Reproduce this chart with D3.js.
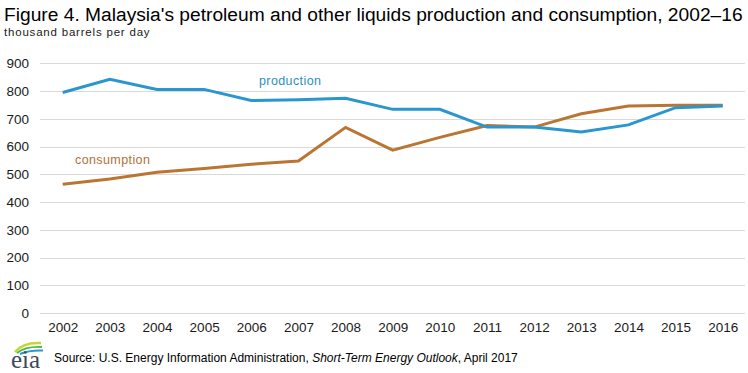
<!DOCTYPE html>
<html>
<head>
<meta charset="utf-8">
<script src="https://cdn.jsdelivr.net/npm/d3@7"></script>
<style>
  body { margin: 0; background: #fff; }
  svg { display: block; font-family: "Liberation Sans", Arial, sans-serif; }
</style>
</head>
<body>
<div id="chart"></div>
<script>
// values (thousand barrels per day)
var years = [2002, 2003, 2004, 2005, 2006, 2007, 2008, 2009, 2010, 2011, 2012, 2013, 2014, 2015, 2016];
var production = [795, 842, 806, 806, 766, 769, 774, 734, 734, 670, 670, 652, 678, 740, 746];
var consumption = [464, 483, 507, 521, 536, 548, 669, 587, 633, 676, 670, 718, 746, 749, 749];
var yTicks = [0, 100, 200, 300, 400, 500, 600, 700, 800, 900];

var w = 748, h = 373;
var svg = d3.select("#chart").append("svg")
    .attr("width", w)
    .attr("height", h);

var x = d3.scalePoint()
    .domain(years)
    .range([62.7, 722.7]);

var y = d3.scaleLinear()
    .domain([0, 900])
    .range([313, 63.3]);

// gridlines
svg.append("g")
    .selectAll("line")
    .data(yTicks)
    .enter()
    .append("line")
    .attr("x1", 40)
    .attr("x2", 745)
    .attr("y1", (d) => Math.round(y(d)) + 0.5)
    .attr("y2", (d) => Math.round(y(d)) + 0.5)
    .attr("stroke", "#d9d9d9")
    .attr("stroke-width", 1);

// y axis labels
var yAxis = svg.append("g")
    .attr("transform", "translate(29,0)")
    .call(d3.axisLeft(y).tickValues(yTicks).tickSize(0).tickPadding(0));
yAxis.select(".domain").remove();
yAxis.selectAll("text")
    .attr("font-size", 13.5)
    .attr("font-family", "Liberation Sans, Arial, sans-serif")
    .attr("fill", "#1a1a1a");

// x axis labels
var xAxis = svg.append("g")
    .attr("transform", "translate(0,322)")
    .call(d3.axisBottom(x).tickFormat(d3.format("d")).tickSize(0).tickPadding(0));
xAxis.select(".domain").remove();
xAxis.selectAll("text")
    .attr("font-size", 13.5)
    .attr("font-family", "Liberation Sans, Arial, sans-serif")
    .attr("fill", "#1a1a1a");

var line = d3.line()
    .x((d, i) => x(years[i]))
    .y((d) => y(d));

svg.append("path")
    .datum(consumption)
    .attr("d", line)
    .attr("fill", "none")
    .attr("stroke", "#bb7532")
    .attr("stroke-width", 3);

svg.append("path")
    .datum(production)
    .attr("d", line)
    .attr("fill", "none")
    .attr("stroke", "#2a96cf")
    .attr("stroke-width", 3);

// series labels
svg.append("text")
    .text("production")
    .attr("x", 259)
    .attr("y", 85)
    .attr("font-size", 12.5)
    .attr("letter-spacing", 0.4)
    .attr("fill", "#2f8fc2");

svg.append("text")
    .text("consumption")
    .attr("x", 75)
    .attr("y", 164)
    .attr("font-size", 12.5)
    .attr("letter-spacing", 0.4)
    .attr("fill", "#b0723a");

// titles
svg.append("text")
    .text("Figure 4. Malaysia's petroleum and other liquids production and consumption, 2002\u201316")
    .attr("x", 4)
    .attr("y", 21)
    .attr("font-size", 19.2)
    .attr("fill", "#000");

svg.append("text")
    .text("thousand barrels per day")
    .attr("x", 4)
    .attr("y", 36)
    .attr("font-size", 11.5)
    .attr("letter-spacing", 0.8)
    .attr("fill", "#1a1a1a");

// eia logo
var logo = svg.append("g").attr("transform", "translate(0,335)");
logo.append("path")
    .attr("d", "M15,17 Q23,7 41,8")
    .attr("fill", "none").attr("stroke", "#c6d630").attr("stroke-width", 2.5);
logo.append("path")
    .attr("d", "M17,18 Q26,11 42,12")
    .attr("fill", "none").attr("stroke", "#4db848").attr("stroke-width", 2);
logo.append("path")
    .attr("d", "M20,19 Q29,15 43,15.5")
    .attr("fill", "none").attr("stroke", "#2a96cf").attr("stroke-width", 2);
logo.append("text")
    .text("eia")
    .attr("x", 11)
    .attr("y", 33)
    .attr("font-family", "Liberation Serif, Times New Roman, serif")
    .attr("font-size", 25)
    .attr("fill", "#3b4a5a");

// source
var src = svg.append("text")
    .attr("x", 54)
    .attr("y", 362)
    .attr("font-size", 12)
    .attr("fill", "#000");
src.append("tspan").text("Source: U.S. Energy Information Administration, ");
src.append("tspan").attr("font-style", "italic").text("Short-Term Energy Outlook");
src.append("tspan").text(", April 2017");
</script>
</body>
</html>
